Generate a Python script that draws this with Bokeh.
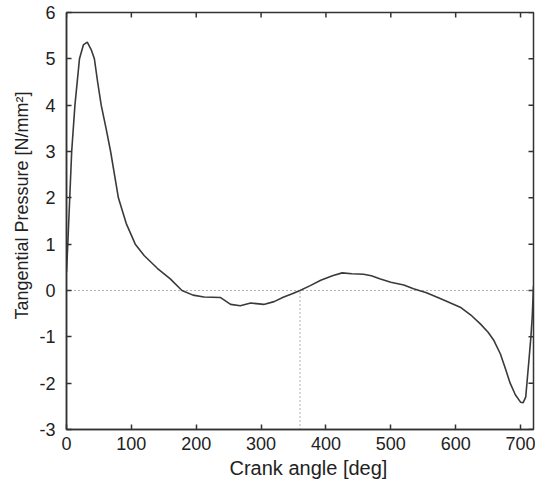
import math
from bokeh.plotting import figure
from bokeh.models import FixedTicker, Range1d, Title
from bokeh.embed import file_html
from bokeh.resources import INLINE

# ---- data ----
angle = [0, 2, 5, 8, 13, 20, 26, 32, 38, 43, 48, 53.5, 61, 68, 80, 92, 106, 120,
         140, 160, 178, 195, 212, 237, 253, 268, 284, 304, 320, 335, 348, 360,
         375, 392, 410, 425, 440, 458, 470, 484, 500, 520, 535, 555, 577, 607,
         625, 638, 650, 659, 669, 677, 684, 692, 700, 704, 708, 713, 716, 718, 720]
pressure = [0.4, 1.0, 2.0, 3.0, 4.0, 5.0, 5.3, 5.36, 5.2, 5.0, 4.5, 4.0, 3.5, 3.0,
            2.0, 1.45, 1.0, 0.75, 0.48, 0.25, 0.0, -0.1, -0.14, -0.15, -0.30,
            -0.33, -0.27, -0.30, -0.24, -0.14, -0.07, 0.0, 0.1, 0.22, 0.32, 0.38,
            0.36, 0.35, 0.32, 0.25, 0.18, 0.12, 0.04, -0.05, -0.18, -0.36, -0.55,
            -0.72, -0.9, -1.08, -1.37, -1.7, -2.0, -2.25, -2.41, -2.42, -2.3,
            -1.5, -1.0, -0.58, 0.1]
x_ticks = [0, 100, 200, 300, 400, 500, 600, 700]
x_tick_labels = ["0", "100", "200", "300", "400", "500", "600", "700"]
y_ticks = [-3, -2, -1, 0, 1, 2, 3, 4, 5, 6]
y_tick_labels = ["-3", "-2", "-1", "0", "1", "2", "3", "4", "5", "6"]
x_title = "Crank angle [deg]"
y_title = "Tangential Pressure [N/mm\u00b2]"
x_min, x_max = 0, 720
y_min, y_max = -3, 6
tdc_angle = 360

FONT = "Liberation Sans"
TXT = "#222222"
AX = "#333333"

p = figure(width=535, height=492, output_backend="svg", toolbar_location=None,
           x_range=Range1d(x_min, x_max), y_range=Range1d(y_min, y_max),
           min_border_left=66, min_border_right=2, min_border_top=12,
           min_border_bottom=63)
p.outline_line_color = AX
p.outline_line_width = 1.5
p.xgrid.visible = False
p.ygrid.visible = False
p.background_fill_color = "white"
p.border_fill_color = "white"

def style(ax, ticks, labels, standoff):
    ax.ticker = FixedTicker(ticks=ticks)
    ax.major_label_overrides = {t: l for t, l in zip(ticks, labels)}
    ax.axis_line_color = AX
    ax.axis_line_width = 1.5
    ax.major_tick_in = 5
    ax.major_tick_out = 0
    ax.major_tick_line_color = AX
    ax.major_tick_line_width = 1.5
    ax.minor_tick_line_color = None
    ax.major_label_text_font = FONT
    ax.major_label_text_color = TXT
    ax.major_label_text_font_size = "18px"
    ax.major_label_standoff = standoff

style(p.xaxis[0], x_ticks, x_tick_labels, 7)
style(p.yaxis[0], y_ticks, y_tick_labels, 11)

# inward ticks on the top and right frame edges (clipped to the frame)
p.scatter(x_ticks, [y_max] * len(x_ticks), marker="dash", size=10, angle=math.pi / 2,
          line_color=AX, line_width=1.5)
p.scatter([x_max] * len(y_ticks), y_ticks, marker="dash", size=10,
          line_color=AX, line_width=1.5)

# reference lines
p.line([x_min, x_max], [0, 0], line_color="#666666", line_width=1, line_dash="1 3")
p.line([tdc_angle, tdc_angle], [y_min, 0], line_color="#666666", line_width=1, line_dash="1 3")

p.line(angle, pressure, line_color="#3a3a3a", line_width=1.6)

p.add_layout(Title(text=x_title, align="left", offset=163, standoff=4,
                   text_font=FONT, text_font_size="20px", text_font_style="normal",
                   text_color=TXT), "below")
p.add_layout(Title(text=y_title, align="left", offset=110, standoff=10,
                   text_font=FONT, text_font_size="18px", text_font_style="normal",
                   text_color=TXT), "left")

open("out.html", "w").write(file_html(p, INLINE))
